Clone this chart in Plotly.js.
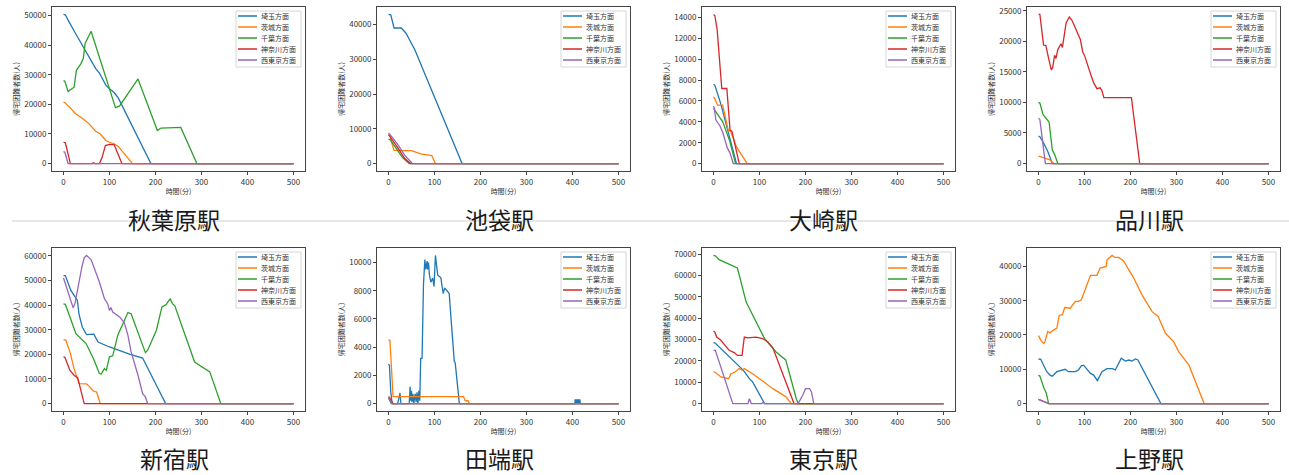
<!DOCTYPE html>
<html><head><meta charset="utf-8">
<script src="https://cdn.plot.ly/plotly-3.0.1.min.js"></script>
<style>html,body{margin:0;padding:0;background:#fff;}#chart{width:1289px;height:475px;}</style>
</head><body><div id="chart"></div>
<script>
const seriesNames = ['埼玉方面','茨城方面','千葉方面','神奈川方面','西東京方面'];
const stations = ['秋葉原駅','池袋駅','大崎駅','品川駅','新宿駅','田端駅','東京駅','上野駅'];
const xTicks = [0,100,200,300,400,500];
const yTickSteps = [10000,10000,2000,5000,10000,2000,10000,10000];
const xTitle = '時間(分)';
const yTitle = '帰宅困難者数(人)';

// 秋葉原駅
const akiba_saitama_t = [0,4,10,15,25,35,50,60,70,78,92,100,110,119,190,500];
const akiba_saitama_v = [50400,50300,48500,47000,44300,41600,37500,34800,32100,30600,26500,25300,24000,22200,0,0];
const akiba_ibaraki_t = [0,3,10,15,25,35,45,55,65,70,80,92,100,110,119,150,500];
const akiba_ibaraki_v = [20700,20600,19500,18800,17000,16000,14800,13500,12000,10900,10000,7800,7200,6700,5800,0,0];
const akiba_chiba_t = [0,3,10,20,23,28,38,43,47,60,113,122,162,204,212,255,290,500];
const akiba_chiba_v = [28000,27800,24400,25500,25800,31500,33800,35500,40600,44700,18900,19500,28600,11200,12000,12200,0,0];
const akiba_kanagawa_t = [0,4,15,62,65,68,78,84,91,100,110,127,500];
const akiba_kanagawa_v = [7200,7000,0,0,300,0,0,2100,6100,6500,6400,0,0];
const akiba_nishi_t = [0,3,10,500];
const akiba_nishi_v = [4000,3800,0,0];

// 池袋駅
const ikebukuro_saitama_t = [0,5,12,28,38,50,57,160,500];
const ikebukuro_saitama_v = [42900,42800,39000,39000,37500,34400,32800,0,0];
const ikebukuro_ibaraki_t = [0,3,8,12,30,50,70,85,94,102,500];
const ikebukuro_ibaraki_v = [8200,8000,5500,3800,3700,3700,2800,2500,2300,0,0];
const ikebukuro_chiba_t = [0,4,16,30,45,500];
const ikebukuro_chiba_v = [7000,6800,4500,1800,0,0];
const ikebukuro_kanagawa_t = [0,3,20,35,48,500];
const ikebukuro_kanagawa_v = [8300,7800,4600,1500,0,0];
const ikebukuro_nishi_t = [0,3,20,35,52,500];
const ikebukuro_nishi_v = [8800,8400,5500,2400,0,0];

// 大崎駅
const osaki_saitama_t = [0,3,16,31,50,500];
const osaki_saitama_v = [7600,7500,5700,3300,0,0];
const osaki_ibaraki_t = [0,3,9,20,32,37,50,73,500];
const osaki_ibaraki_v = [6400,6200,5600,5600,3200,3100,1600,0,0];
const osaki_chiba_t = [0,3,20,35,48,500];
const osaki_chiba_v = [5300,5100,4000,2200,0,0];
const osaki_kanagawa_t = [0,3,8,18,29,36,40,56,500];
const osaki_kanagawa_v = [14300,14200,12800,7200,7200,3200,3100,0,0];
const osaki_nishi_t = [0,2,5,14,20,30,36,43,500];
const osaki_nishi_v = [5500,5300,4200,3600,3000,1500,1000,0,0];

// 品川駅
const shinagawa_saitama_t = [0,3,10,20,30,500];
const shinagawa_saitama_v = [4500,4400,3500,2000,0,0];
const shinagawa_ibaraki_t = [0,5,15,25,33,500];
const shinagawa_ibaraki_v = [1200,1100,900,600,0,0];
const shinagawa_chiba_t = [0,3,10,15,23,30,35,42,500];
const shinagawa_chiba_v = [10000,9900,8000,7500,6800,2200,1500,0,0];
const shinagawa_kanagawa_t = [0,3,11,16,22,28,31,35,38,42,49,52,60,67,73,80,91,96,100,113,120,127,134,138,142,202,220,500];
const shinagawa_kanagawa_v = [24400,24400,19400,19300,17200,15300,15800,17700,17200,18650,19600,19000,23000,24000,23400,22100,20300,18300,17700,14700,13200,12250,12400,11900,10800,10800,0,0];
const shinagawa_nishi_t = [0,3,15,500];
const shinagawa_nishi_v = [7400,7200,0,0];

// 新宿駅
const shinjuku_saitama_t = [0,4,16,25,30,34,41,50,63,66,75,100,145,172,222,500];
const shinjuku_saitama_v = [52000,52000,46000,43300,42000,36000,31000,28000,28000,28200,25000,23000,20000,18500,0,0];
const shinjuku_ibaraki_t = [0,5,14,23,34,50,56,65,72,80,500];
const shinjuku_ibaraki_v = [26000,25800,21000,14200,8100,8000,7000,5100,4700,0,0];
const shinjuku_chiba_t = [0,4,14,27,49,65,78,82,89,93,100,107,118,140,147,178,183,202,214,223,227,232,237,242,285,318,342,500];
const shinjuku_chiba_v = [40500,40300,35200,28400,24400,18300,12200,12000,14200,13500,19000,19400,27800,37000,36500,20700,21700,29800,39300,40200,41300,42500,40600,39700,16900,12900,0,0];
const shinjuku_kanagawa_t = [0,3,14,23,31,45,500];
const shinjuku_kanagawa_v = [19000,18800,13500,11500,10400,0,0];
const shinjuku_nishi_t = [0,9,21,25,34,40,45,50,56,60,78,89,96,100,103,107,122,132,140,147,162,172,178,183,500];
const shinjuku_nishi_v = [51000,45400,38900,40700,50100,55500,59200,60200,59200,58500,49400,42600,40600,37800,39000,37200,35200,32900,27800,21000,11500,4000,2700,0,0];

// 田端駅
const tabata_saitama_t = [0,2,5,8,20,23,25,27,30,45,47,48,50,51,53,55,58,60,62,64,66,68,70,73,76,79,81,84,85,87,89,92,96,99,102,105,107,111,114,116,119,122,125,129,132,136,140,143,145,149,154,405,406,407,408,409,410,411,412,413,414,415,416,417,418,500];
const tabata_saitama_v = [2800,2700,800,0,0,600,750,0,0,0,1200,200,900,100,700,0,700,100,800,0,900,200,3200,3200,8400,10200,9500,10100,9500,10000,9100,8600,8900,8300,10500,9700,9100,9000,8900,8400,7800,8200,8100,7900,7800,6000,4100,3000,2900,1800,0,0,300,0,300,0,300,0,300,0,300,0,300,0,0,0];
const tabata_ibaraki_t = [0,3,10,163,167,173,176,500];
const tabata_ibaraki_v = [4500,4500,500,500,200,200,0,0];
const tabata_chiba_t = [0,6,500];
const tabata_chiba_v = [400,0,0];
const tabata_kanagawa_t = [0,5,10,500];
const tabata_kanagawa_v = [500,300,0,0];
const tabata_nishi_t = [0,4,8,500];
const tabata_nishi_v = [400,200,0,0];

// 東京駅
const tokyo_saitama_t = [0,3,65,78,85,111,500];
const tokyo_saitama_v = [28600,28500,15600,11700,10200,0,0];
const tokyo_ibaraki_t = [0,3,16,33,38,47,56,63,67,74,85,100,129,150,158,169,500];
const tokyo_ibaraki_v = [14800,14800,12500,11700,14000,14800,16400,15600,16400,15600,14000,11700,7000,4200,3100,0,0];
const tokyo_chiba_t = [0,4,12,52,71,100,111,136,157,180,184,500];
const tokyo_chiba_v = [69500,69300,67500,63600,47600,35000,30500,24200,20500,2300,0,0];
const tokyo_kanagawa_t = [0,3,7,16,25,34,45,52,62,67,74,92,107,118,129,175,500];
const tokyo_kanagawa_v = [34000,33500,31200,29700,27300,25000,23900,22600,22600,31200,30800,31200,30500,28900,26200,0,0];
const tokyo_nishi_t = [0,4,42,75,78,82,105,108,111,184,194,200,209,213,218,500];
const tokyo_nishi_v = [25000,25000,0,0,2300,0,0,600,0,0,3900,7000,7000,5500,0,0];

// 上野駅
const ueno_saitama_t = [0,5,11,18,25,30,40,51,58,65,80,87,93,98,113,120,128,138,149,161,167,180,189,196,203,211,216,266,500];
const ueno_saitama_v = [13000,12900,11200,9300,8300,8000,9300,9800,10000,9300,9300,9800,11000,11200,8800,8300,6700,9300,10200,10200,9800,13200,12400,12700,12400,13000,12700,0,0];
const ueno_ibaraki_t = [0,5,11,14,20,25,30,40,45,52,57,69,80,87,93,100,113,127,134,147,149,160,166,174,185,207,225,247,260,276,294,305,327,360,500];
const ueno_ibaraki_v = [19800,18500,17500,18000,21000,20600,21200,22000,25700,25900,28000,27800,29800,29800,30200,32700,37400,37400,39500,40000,41900,43200,42600,42600,41600,36600,31700,26800,25400,20500,18000,15100,11200,0,0];
const ueno_chiba_t = [0,3,12,17,22,500];
const ueno_chiba_v = [8300,8000,4500,3000,0,0];
const ueno_kanagawa_t = [0,22,500];
const ueno_kanagawa_v = [1200,0,0];
const ueno_nishi_t = [0,10,23,500];
const ueno_nishi_v = [1200,600,0,0];

const panelSeries = [
  [[akiba_saitama_t,akiba_saitama_v],[akiba_ibaraki_t,akiba_ibaraki_v],[akiba_chiba_t,akiba_chiba_v],[akiba_kanagawa_t,akiba_kanagawa_v],[akiba_nishi_t,akiba_nishi_v]],
  [[ikebukuro_saitama_t,ikebukuro_saitama_v],[ikebukuro_ibaraki_t,ikebukuro_ibaraki_v],[ikebukuro_chiba_t,ikebukuro_chiba_v],[ikebukuro_kanagawa_t,ikebukuro_kanagawa_v],[ikebukuro_nishi_t,ikebukuro_nishi_v]],
  [[osaki_saitama_t,osaki_saitama_v],[osaki_ibaraki_t,osaki_ibaraki_v],[osaki_chiba_t,osaki_chiba_v],[osaki_kanagawa_t,osaki_kanagawa_v],[osaki_nishi_t,osaki_nishi_v]],
  [[shinagawa_saitama_t,shinagawa_saitama_v],[shinagawa_ibaraki_t,shinagawa_ibaraki_v],[shinagawa_chiba_t,shinagawa_chiba_v],[shinagawa_kanagawa_t,shinagawa_kanagawa_v],[shinagawa_nishi_t,shinagawa_nishi_v]],
  [[shinjuku_saitama_t,shinjuku_saitama_v],[shinjuku_ibaraki_t,shinjuku_ibaraki_v],[shinjuku_chiba_t,shinjuku_chiba_v],[shinjuku_kanagawa_t,shinjuku_kanagawa_v],[shinjuku_nishi_t,shinjuku_nishi_v]],
  [[tabata_saitama_t,tabata_saitama_v],[tabata_ibaraki_t,tabata_ibaraki_v],[tabata_chiba_t,tabata_chiba_v],[tabata_kanagawa_t,tabata_kanagawa_v],[tabata_nishi_t,tabata_nishi_v]],
  [[tokyo_saitama_t,tokyo_saitama_v],[tokyo_ibaraki_t,tokyo_ibaraki_v],[tokyo_chiba_t,tokyo_chiba_v],[tokyo_kanagawa_t,tokyo_kanagawa_v],[tokyo_nishi_t,tokyo_nishi_v]],
  [[ueno_saitama_t,ueno_saitama_v],[ueno_ibaraki_t,ueno_ibaraki_v],[ueno_chiba_t,ueno_chiba_v],[ueno_kanagawa_t,ueno_kanagawa_v],[ueno_nishi_t,ueno_nishi_v]]
];

// ---- styling / layout ----
const colors = ['#1f77b4','#ff7f0e','#2ca02c','#d62728','#9467bd'];
const FONT = '"Noto Sans CJK JP", "Noto Sans", sans-serif';
const W = 1289, H = 475;
const colLeft = [52, 377, 702, 1027], colRight = [305, 630, 955, 1280];
const rowTop = [7, 248], rowBottom = [171, 411];
const titleX = [174, 499, 824, 1149], titleY = [219, 458];
const px = x => x / W, py = y => 1 - y / H;

const traces = [];
const layout = {
  width: W, height: H, margin: {l:0, r:0, t:0, b:0},
  paper_bgcolor: '#fff', plot_bgcolor: '#fff',
  showlegend: false, font: {family: FONT, color: '#333'},
  shapes: [], annotations: []
};

layout.shapes.push({type:'line', xref:'paper', yref:'paper', x0:px(12), x1:1, y0:py(221), y1:py(221),
  line:{color:'#cfcfcf', width:1}, layer:'below'});

stations.forEach((name, i) => {
  const col = i % 4, row = Math.floor(i / 4);
  const sfx = i === 0 ? '' : String(i + 1);
  let ymax = 0;
  panelSeries[i].forEach(([t, v], k) => {
    ymax = Math.max(ymax, ...v);
    traces.push({type:'scatter', mode:'lines', x:t, y:v, name:seriesNames[k],
      xaxis:'x'+sfx, yaxis:'y'+sfx, line:{color:colors[k], width:1.3}, hoverinfo:'skip'});
  });
  const L = colLeft[col], R = colRight[col], T = rowTop[row], B = rowBottom[row];
  const common = {showline:true, mirror:true, linecolor:'#444', linewidth:1, ticks:'outside', ticklen:3,
    tickwidth:1, tickcolor:'#444', showgrid:false, zeroline:false, automargin:false,
    tickfont:{size:8, color:'#333', family:FONT}};
  layout['xaxis'+sfx] = Object.assign({}, common, {domain:[px(L), px(R)], anchor:'y'+sfx,
    range:[-25, 525], tickmode:'array', tickvals:xTicks,
    title:{text:xTitle, font:{size:7, color:'#333', family:FONT}, standoff:3}});
  layout['yaxis'+sfx] = Object.assign({}, common, {domain:[py(B), py(T)], anchor:'x'+sfx,
    range:[-0.05*ymax, 1.05*ymax], tick0:0, dtick:yTickSteps[i], tickformat:'d',
    title:{text:yTitle, font:{size:7, color:'#333', family:FONT}, standoff:3}});

  // legend box
  const bx1 = R - 4, bx0 = bx1 - 65, by0 = T + 4, by1 = by0 + 56;
  layout.shapes.push({type:'rect', xref:'paper', yref:'paper', x0:px(bx0), x1:px(bx1), y0:py(by1), y1:py(by0),
    line:{color:'#d6d6d6', width:1}, fillcolor:'rgba(255,255,255,0.85)', layer:'above'});
  seriesNames.forEach((s, k) => {
    const yy = by0 + 5 + 11 * k;
    layout.shapes.push({type:'line', xref:'paper', yref:'paper', x0:px(bx0+2), x1:px(bx0+21), y0:py(yy), y1:py(yy),
      line:{color:colors[k], width:1.5}, layer:'above'});
    layout.annotations.push({xref:'paper', yref:'paper', x:px(bx0+24), y:py(yy), xanchor:'left', yanchor:'middle',
      text:s, showarrow:false, font:{size:7, color:'#333', family:FONT}, borderpad:0});
  });
  // station title
  layout.annotations.push({xref:'paper', yref:'paper', x:px(titleX[col]), y:py(titleY[row]),
    xanchor:'center', yanchor:'middle', text:name, showarrow:false, borderpad:0,
    font:{size:23, color:'#1a1a1a', family:FONT}});
});

Plotly.newPlot('chart', traces, layout, {displayModeBar:false, staticPlot:true});
</script></body></html>
